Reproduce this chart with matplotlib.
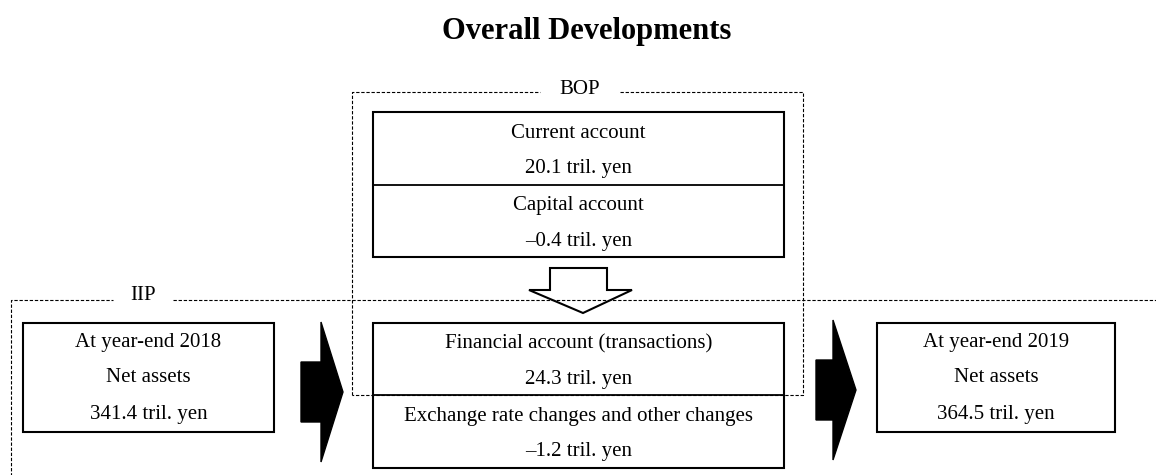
import matplotlib.pyplot as plt
from matplotlib.patches import Rectangle, Polygon

plt.rcParams['font.family'] = ['Liberation Serif', 'DejaVu Serif']

# values (tril. yen)
iip_start_year = 2018
iip_end_year = 2019
iip_start = 341.4
iip_end = 364.5
current_account = 20.1
capital_account = -0.4
financial_account = 24.3
other_changes = -1.2

bop_labels = ["Current account", "Capital account"]
bop_values = [current_account, capital_account]
iip_labels = ["Financial account (transactions)", "Exchange rate changes and other changes"]
iip_values = [financial_account, other_changes]


def fmt(v):
    s = f"{abs(v):.1f} tril. yen"
    return ("\u2013" + s) if v < 0 else s


W, H = 1156, 475
fig = plt.figure(figsize=(W / 100, H / 100), dpi=100)
ax = fig.add_axes([0, 0, 1, 1])
ax.set_xlim(0, W)
ax.set_ylim(H, 0)
ax.axis("off")

fs = 15
dash = (0, (3, 1.6))
dash_kw = dict(color="black", lw=0.8, linestyle=dash)

# title
ax.text(587, 31, "Overall Developments", ha="center", va="center",
        fontsize=22, fontweight="bold")

# BOP dashed frame
bl, br, bt, bb = 352, 803, 92, 395
ax.plot([bl, bl, 540], [bb, bt, bt], **dash_kw)
ax.plot([620, br, br, bl], [bt, bt, bb, bb], **dash_kw)
ax.text(580, bt - 2, "BOP", ha="center", va="center", fontsize=fs)

# IIP dashed frame
it, il = 300, 10.5
ax.plot([il, il, 113], [H + 5, it, it], **dash_kw)
ax.plot([173, W + 5], [it, it], **dash_kw, zorder=4)
ax.text(143, it - 4, "IIP", ha="center", va="center", fontsize=fs)

# center boxes
cx0, cx1 = 373, 784
cxm = (cx0 + cx1) / 2


def two_box(top, mid, bot, labels, values):
    ax.add_patch(Rectangle((cx0, top), cx1 - cx0, bot - top, fill=False,
                           lw=1.5, edgecolor="black", zorder=3))
    ax.plot([cx0, cx1], [mid, mid], color="black", lw=1.3, zorder=3)
    for i, (lab, val) in enumerate(zip(labels, values)):
        y0 = top if i == 0 else mid
        y1 = mid if i == 0 else bot
        h = y1 - y0
        ax.text(cxm, y0 + h * 0.29, lab, ha="center", va="center", fontsize=fs)
        ax.text(cxm, y0 + h * 0.78, fmt(val), ha="center", va="center", fontsize=fs)


two_box(112, 185, 257, bop_labels, bop_values)
two_box(323, 395, 468, iip_labels, iip_values)

# hollow down arrow
hollow = [(550, 268), (607, 268), (607, 290), (632, 290), (583, 313),
          (529, 290), (550, 290)]
ax.add_patch(Polygon(hollow, closed=True, facecolor="white", edgecolor="black",
                     lw=1.5, zorder=2))


# side boxes
def side_box(x0, x1, year, value):
    top, bot = 323, 432
    ax.add_patch(Rectangle((x0, top), x1 - x0, bot - top, fill=False,
                           lw=1.5, edgecolor="black"))
    xm = (x0 + x1) / 2
    ax.text(xm, 342, f"At year-end {year}", ha="center", va="center", fontsize=fs)
    ax.text(xm, 378, "Net assets", ha="center", va="center", fontsize=fs)
    ax.text(xm, 415, fmt(value), ha="center", va="center", fontsize=fs)


side_box(23, 274, iip_start_year, iip_start)
side_box(877, 1115, iip_end_year, iip_end)


# black block arrows
def block_arrow(x0, xs, xt, yc):
    pts = [(x0, yc - 30), (xs, yc - 30), (xs, yc - 70), (xt, yc),
           (xs, yc + 70), (xs, yc + 30), (x0, yc + 30)]
    ax.add_patch(Polygon(pts, closed=True, facecolor="black", edgecolor="black"))


block_arrow(301, 321, 343, 392)
block_arrow(816, 833, 856, 390)

fig.savefig("out.png", dpi=100)
